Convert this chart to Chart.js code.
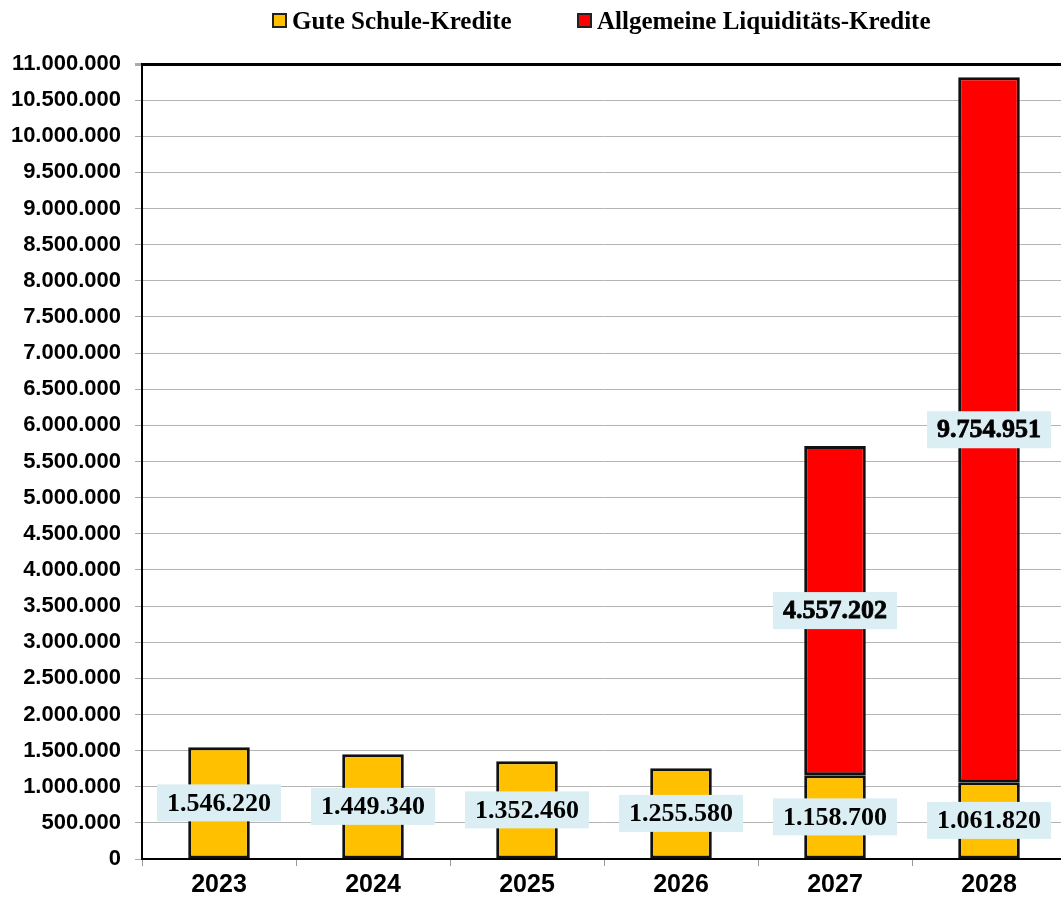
<!DOCTYPE html>
<html>
<head>
<meta charset="utf-8">
<script src="https://cdn.jsdelivr.net/npm/chart.js@4.4.1/dist/chart.umd.min.js"></script>
<style>
    body { margin: 0; background: #fff; overflow: hidden; }
    #wrap { position: relative; width: 1066px; height: 900px; }
    .legend { position: absolute; top: 6px; left: 0; width: 1066px; height: 32px;
              font: bold 25px "Liberation Serif", serif; color: #000; }
    .legend span { position: absolute; top: 0; white-space: nowrap; line-height: 30px; }
    .legend i { display: inline-block; width: 11px; height: 11px; border: 2px solid #222;
                margin-right: 5px; vertical-align: 1px; }
</style>
</head>
<body>
<div id="wrap">
    <div class="legend">
        <span style="left:272px"><i style="background:#FFC000"></i>Gute Schule-Kredite</span>
        <span style="left:577px"><i style="background:#FF0000"></i>Allgemeine Liquiditäts-Kredite</span>
    </div>
    <canvas id="kreditChart" width="1066" height="900"></canvas>
</div>
<script>
var years = ['2023', '2024', '2025', '2026', '2027', '2028'];
var guteSchule = [1546220, 1449340, 1352460, 1255580, 1158700, 1061820];
var liquiditaet = [null, null, null, null, 4557202, 9754951];
var yMax = 11000000;
var yStep = 500000;

function fmt(v) {
    return String(Math.round(v)).replace(/\B(?=(\d{3})+(?!\d))/g, '.');
}

// value boxes in the middle of each bar segment
var boxLabels = {
    id: 'boxLabels',
    afterDatasetsDraw: function (chart) {
        var ctx = chart.ctx;
        ctx.save();
        ctx.font = 'bold 26px "Liberation Serif", serif';
        ctx.textAlign = 'center';
        ctx.textBaseline = 'middle';
        chart.data.datasets.forEach(function (ds, i) {
            var meta = chart.getDatasetMeta(i);
            meta.data.forEach(function (bar, j) {
                var v = ds.data[j];
                if (v === null || v === undefined) return;
                var cy = (bar.y + bar.base) / 2;
                var text = fmt(v);
                var w = ctx.measureText(text).width + 20;
                var h = 37;
                ctx.fillStyle = '#DAEEF3';
                ctx.fillRect(bar.x - w / 2, cy - h / 2, w, h);
                ctx.fillStyle = '#000';
                if (i === 1) {
                    ctx.lineWidth = 0.8;
                    ctx.strokeStyle = '#000';
                    ctx.strokeText(text, bar.x, cy + 1);
                }
                ctx.fillText(text, bar.x, cy + 1);
            });
        });
        ctx.restore();
    }
};

var ctx = document.getElementById('kreditChart').getContext('2d');
var kreditChart = new Chart(ctx, {
    type: 'bar',
    data: {
        labels: years,
        datasets: [{
            label: 'Gute Schule-Kredite',
            data: guteSchule,
            backgroundColor: '#FFC000',
            borderColor: '#111',
            borderWidth: 3,
            borderSkipped: false
        }, {
            label: 'Allgemeine Liquiditäts-Kredite',
            data: liquiditaet,
            backgroundColor: '#FF0000',
            borderColor: '#111',
            borderWidth: 3,
            borderSkipped: false
        }]
    },
    options: {
        responsive: false,
        animation: false,
        layout: { padding: { top: 64, left: 0, right: 0, bottom: 0 } },
        datasets: {
            bar: { categoryPercentage: 1, barPercentage: 0.4 }
        },
        scales: {
            x: {
                stacked: true,
                afterFit: function (s) { s.height = 41; },
                border: { color: '#000', width: 2 },
                grid: { drawOnChartArea: false, tickLength: 7, color: '#999' },
                ticks: { color: '#000', padding: 4, font: { family: 'Liberation Sans', size: 25, weight: 'bold' } }
            },
            y: {
                stacked: true,
                min: 0,
                max: yMax,
                afterFit: function (s) { s.width = 142; },
                border: { color: '#000', width: 2 },
                grid: {
                    tickLength: 7,
                    tickColor: '#aaa',
                    color: function (c) { return c.tick && c.tick.value === yMax ? '#000' : '#b4b4b4'; },
                    lineWidth: function (c) { return c.tick && c.tick.value === yMax ? 3 : 1; }
                },
                ticks: {
                    stepSize: yStep,
                    color: '#000',
                    padding: 14,
                    font: { family: 'Liberation Sans', size: 22, weight: 'bold' },
                    callback: function (v) { return fmt(v); }
                }
            }
        },
        plugins: {
            legend: { display: false },
            tooltip: { enabled: false }
        }
    },
    plugins: [boxLabels]
});
</script>
</body>
</html>
